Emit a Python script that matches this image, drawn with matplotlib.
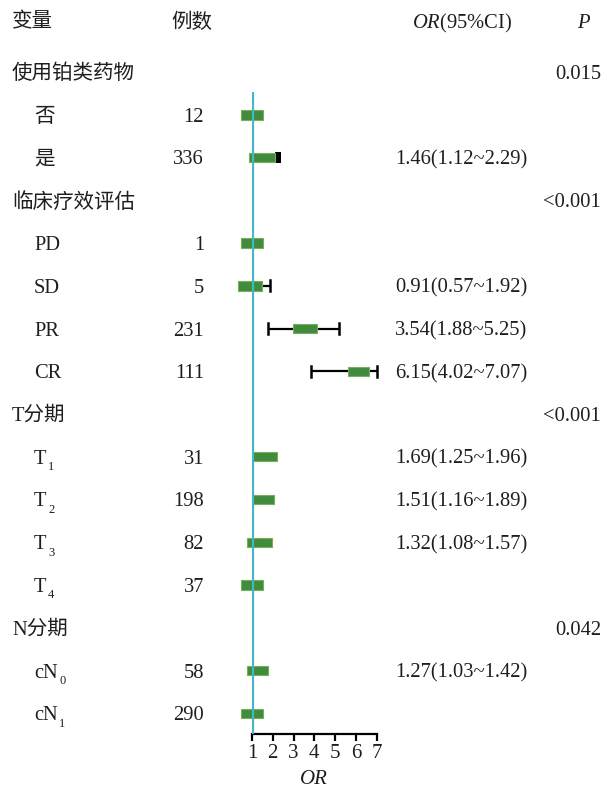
import matplotlib
matplotlib.use('Agg')
import matplotlib.pyplot as plt
from matplotlib.patches import Rectangle
import numpy as np

plt.rcParams['font.family'] = ['Liberation Serif', 'Noto Sans CJK SC']
plt.rcParams['mathtext.fontset'] = 'custom'
plt.rcParams['mathtext.rm'] = 'Liberation Serif'
plt.rcParams['mathtext.it'] = 'Liberation Serif:italic'
plt.rcParams['mathtext.default'] = 'regular'

# ---------------- data ----------------
labels = ['使用铂类药物', '否', '是', '临床疗效评估', 'PD', 'SD', 'PR', 'CR',
          'T分期', 'T', 'T', 'T', 'T', 'N分期', 'cN', 'cN']
label_subs = ['', '', '', '', '', '', '', '', '', '1', '2', '3', '4', '', '0', '1']
is_group = [True, False, False, True, False, False, False, False,
            True, False, False, False, False, True, False, False]
counts = ['', '12', '336', '', '1', '5', '231', '111',
          '', '31', '198', '82', '37', '', '58', '290']
or_ci = ['', '', '1.46(1.12~2.29)', '', '', '0.91(0.57~1.92)', '3.54(1.88~5.25)',
         '6.15(4.02~7.07)', '', '1.69(1.25~1.96)', '1.51(1.16~1.89)',
         '1.32(1.08~1.57)', '', '', '1.27(1.03~1.42)', '']
p_vals = ['0.015', '', '', '<0.001', '', '', '', '', '<0.001', '', '', '', '',
          '0.042', '', '']
# box extents (as drawn in the figure, in OR units)
box_lo = [np.nan, 0.47, 0.87, np.nan, 0.47, 0.31, 2.95, 5.60,
          np.nan, 1.00, 1.01, 0.77, 0.47, np.nan, 0.77, 0.47]
box_hi = [np.nan, 1.55, 2.12, np.nan, 1.55, 1.47, 4.14, 6.64,
          np.nan, 2.20, 2.07, 1.94, 1.51, np.nan, 1.78, 1.51]
# whiskers
wh_lo = [np.nan, np.nan, np.nan, np.nan, np.nan, np.nan, 1.75, 3.84,
         np.nan, np.nan, np.nan, np.nan, np.nan, np.nan, np.nan, np.nan]
wh_hi = [np.nan, np.nan, np.nan, np.nan, np.nan, 1.87, 5.20, 7.00,
         np.nan, np.nan, np.nan, np.nan, np.nan, np.nan, np.nan, np.nan]
# black end marks
blk_lo = [np.nan, np.nan, 2.10, np.nan, np.nan, np.nan, np.nan, np.nan,
          np.nan, 1.00, np.nan, np.nan, np.nan, np.nan, np.nan, np.nan]
blk_hi = [np.nan, np.nan, 2.38, np.nan, np.nan, np.nan, np.nan, np.nan,
          np.nan, 1.07, np.nan, np.nan, np.nan, np.nan, np.nan, np.nan]
xticks = [1, 2, 3, 4, 5, 6, 7]

# ---------------- layout ----------------
W, H = 607, 788
Y0, DY = 72.0, 42.75          # pixel y of row 0 and row spacing
def row_of(py):
    return (py - Y0) / DY

TXT = '#1e1e1e'
FS = 14.8
TOFF = 2.5 / DY   # small downward text offset

fig = plt.figure(figsize=(W / 100, H / 100), dpi=100)
renderer = fig.canvas.get_renderer()

tax = fig.add_axes([0, 0, 1, 1])
tax.set_xlim(0, W)
tax.set_ylim(row_of(H), row_of(0))
tax.axis('off')

# header
hy = row_of(23)
tax.text(12, hy, '变量', fontsize=FS, va='center', ha='left', color=TXT)
tax.text(171, hy, '例数', fontsize=FS, va='center', ha='left', color=TXT)
tax.text(412, hy, '$\\mathit{OR}$(95%CI)', fontsize=FS, va='center', ha='left', color=TXT)
tax.text(583, hy, 'P', fontsize=FS, va='center', ha='center', color=TXT, style='italic')

for i, lab in enumerate(labels):
    y = i + TOFF
    x = 12 if is_group[i] else 34
    t = tax.text(x, y, lab, fontsize=FS, va='center', ha='left', color=TXT)
    if label_subs[i]:
        bb = t.get_window_extent(renderer=renderer)
        tax.text(bb.x1 + 1.5, y + 8 / DY, label_subs[i], fontsize=9,
                 va='center', ha='left', color=TXT)
    if counts[i]:
        tax.text(204, y, counts[i], fontsize=FS, va='center', ha='right', color=TXT)
    if or_ci[i]:
        tax.text(395, y, or_ci[i], fontsize=FS, va='center', ha='left', color=TXT)
    if p_vals[i]:
        tax.text(601, y, p_vals[i], fontsize=FS, va='center', ha='right', color=TXT)

# forest axes
ax_left, ax_right = 252.0, 376.7
ax_top, ax_bot = 92.0, 734.0
fax = fig.add_axes([ax_left / W, (H - ax_bot) / H, (ax_right - ax_left) / W,
                    (ax_bot - ax_top) / H])
fax.set_xlim(1, 7)
fax.set_ylim(row_of(ax_bot), row_of(ax_top))
fax.patch.set_alpha(0)
for s in ['top', 'right', 'left']:
    fax.spines[s].set_visible(False)
fax.spines['bottom'].set_linewidth(1.6)
fax.set_yticks([])
fax.set_xticks(xticks)
fax.set_xticklabels([str(t) for t in xticks], fontsize=15, color=TXT)
fax.tick_params(axis='x', direction='out', length=5, width=1.6, pad=2)
fax.set_xlabel('OR', fontsize=15, style='italic', color=TXT, labelpad=5)

bh = 9.5 / DY
ch = 11 / DY
for i in range(len(labels)):
    if not np.isnan(wh_hi[i]):
        lo = wh_lo[i] if not np.isnan(wh_lo[i]) else (box_lo[i] + box_hi[i]) / 2
        fax.plot([lo, wh_hi[i]], [i, i], color='black', lw=1.6, zorder=2,
                 clip_on=False, solid_capstyle='butt')
        fax.plot([wh_hi[i], wh_hi[i]], [i - ch / 2, i + ch / 2], color='black',
                 lw=1.8, zorder=2, clip_on=False)
        if not np.isnan(wh_lo[i]):
            fax.plot([wh_lo[i], wh_lo[i]], [i - ch / 2, i + ch / 2], color='black',
                     lw=1.8, zorder=2, clip_on=False)
    if not np.isnan(blk_lo[i]):
        fax.add_patch(Rectangle((blk_lo[i], i - bh / 2 - 0.01), blk_hi[i] - blk_lo[i],
                                bh + 0.02, facecolor='black', edgecolor='none',
                                zorder=3, clip_on=False))
    if not np.isnan(box_lo[i]):
        lo, hi = box_lo[i], box_hi[i]
        if not np.isnan(blk_lo[i]):
            if blk_lo[i] > lo:
                hi = blk_lo[i]
            else:
                lo = blk_hi[i]
        fax.add_patch(Rectangle((lo, i - bh / 2), hi - lo, bh,
                                facecolor='#3f8c3f', edgecolor='#79ad5a', lw=0.8,
                                zorder=4, clip_on=False))

fax.axvline(1, color='#45b7c6', lw=2.3, zorder=5)

fig.savefig('out.png', dpi=100)
